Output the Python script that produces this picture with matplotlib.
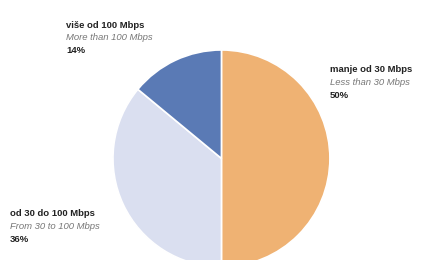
import matplotlib.pyplot as plt

labels_hr = ["manje od 30 Mbps", "od 30 do 100 Mbps", "više od 100 Mbps"]
labels_en = ["Less than 30 Mbps", "From 30 to 100 Mbps", "More than 100 Mbps"]
shares = [50, 36, 14]
colors = ["#EFB273", "#DADFF0", "#5A7AB5"]

# where each label block sits (figure pixels from top-left)
label_pos = [(330, 70), (10, 214), (66, 25)]


def main():
    fig = plt.figure(figsize=(4.27, 2.60), dpi=100)
    ax = fig.add_axes([0.2646, -0.0269, 0.508, 0.835])
    ax.pie(shares, colors=colors, startangle=90, counterclock=False,
           wedgeprops=dict(edgecolor="white", linewidth=1.2))
    ax.set_xlim(-1, 1)
    ax.set_ylim(-1, 1)
    ax.set_aspect("equal")

    fam = ["Liberation Sans Narrow", "Liberation Sans", "DejaVu Sans"]
    for hr, en, s, (x, y) in zip(labels_hr, labels_en, shares, label_pos):
        fx = x / 427
        fig.text(fx, 1 - y / 260, hr, fontsize=6.8, fontweight="bold",
                 family=fam, color="#222222", va="center")
        fig.text(fx, 1 - (y + 12.5) / 260, en, fontsize=6.8, style="italic",
                 family=fam, color="#777777", va="center")
        fig.text(fx, 1 - (y + 25.5) / 260, f"{s}%", fontsize=6.8,
                 fontweight="bold", family=fam, color="#222222", va="center")

    fig.savefig("out.png", dpi=100)


if __name__ == "__main__":
    main()
